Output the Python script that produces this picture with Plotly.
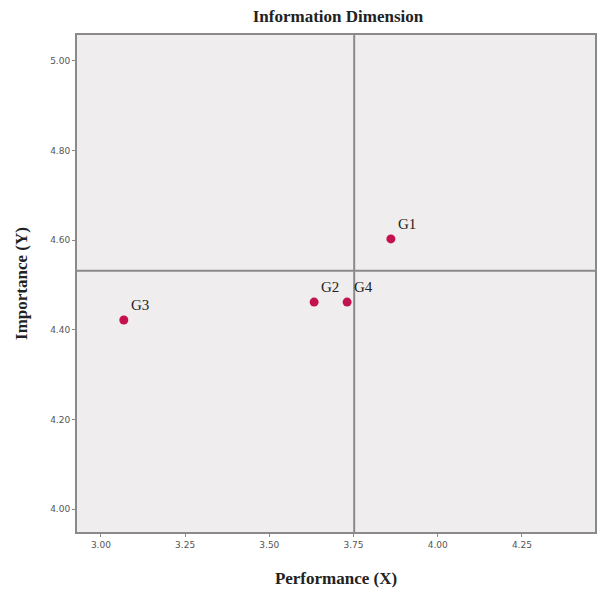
import plotly.graph_objects as go

groups = ["G1", "G2", "G3", "G4"]
performance = [3.861, 3.633, 3.068, 3.731]
importance = [4.603, 4.462, 4.422, 4.462]
x_ref = 3.752
y_ref = 4.532
x_ticks = [3.00, 3.25, 3.50, 3.75, 4.00, 4.25]
y_ticks = [4.00, 4.20, 4.40, 4.60, 4.80, 5.00]

serif = "Liberation Serif"
grey = "#8a8a8a"

fig = go.Figure()
fig.add_trace(go.Scatter(
    x=performance, y=importance, mode="markers",
    marker=dict(color="#c3124f", size=9, line=dict(width=0)),
    showlegend=False, hoverinfo="skip"))

for g, xv, yv in zip(groups, performance, importance):
    fig.add_annotation(x=xv, y=yv, text=g, showarrow=False,
                       xshift=16, yshift=15,
                       font=dict(family=serif, size=15, color="#222"))

fig.add_shape(type="line", xref="x", yref="paper", x0=x_ref, x1=x_ref, y0=0, y1=1,
              line=dict(color=grey, width=2), layer="below")
fig.add_shape(type="line", xref="paper", yref="y", x0=0, x1=1, y0=y_ref, y1=y_ref,
              line=dict(color=grey, width=2), layer="below")

fig.update_layout(
    width=602, height=590,
    margin=dict(l=77, r=5, t=35, b=58),
    paper_bgcolor="white", plot_bgcolor="#f0edee",
    title=dict(text="<b>Information Dimension</b>", x=338 / 602, xanchor="center",
               y=1 - 16 / 590, yanchor="middle",
               font=dict(family=serif, size=17, color="#222")),
    xaxis=dict(range=[2.929, 4.467], tickvals=x_ticks, ticktext=[f"{v:.2f}" for v in x_ticks],
               showgrid=False, zeroline=False, showline=True, mirror=True,
               linecolor=grey, linewidth=2, ticks="outside", ticklen=3, tickcolor=grey,
               tickfont=dict(family="DejaVu Sans", size=9, color="#555"),
               title=dict(text="<b>Performance (X)</b>", standoff=23,
                          font=dict(family=serif, size=17, color="#222"))),
    yaxis=dict(range=[3.949, 5.058], tickvals=y_ticks, ticktext=[f"{v:.2f}" for v in y_ticks],
               showgrid=False, zeroline=False, showline=True, mirror=True,
               linecolor=grey, linewidth=2, ticks="outside", ticklen=3, tickcolor=grey,
               tickfont=dict(family="DejaVu Sans", size=9, color="#555"),
               title=dict(text="<b>Importance (Y)</b>", standoff=18,
                          font=dict(family=serif, size=17, color="#222"))),
)

fig.write_html("out.html")
